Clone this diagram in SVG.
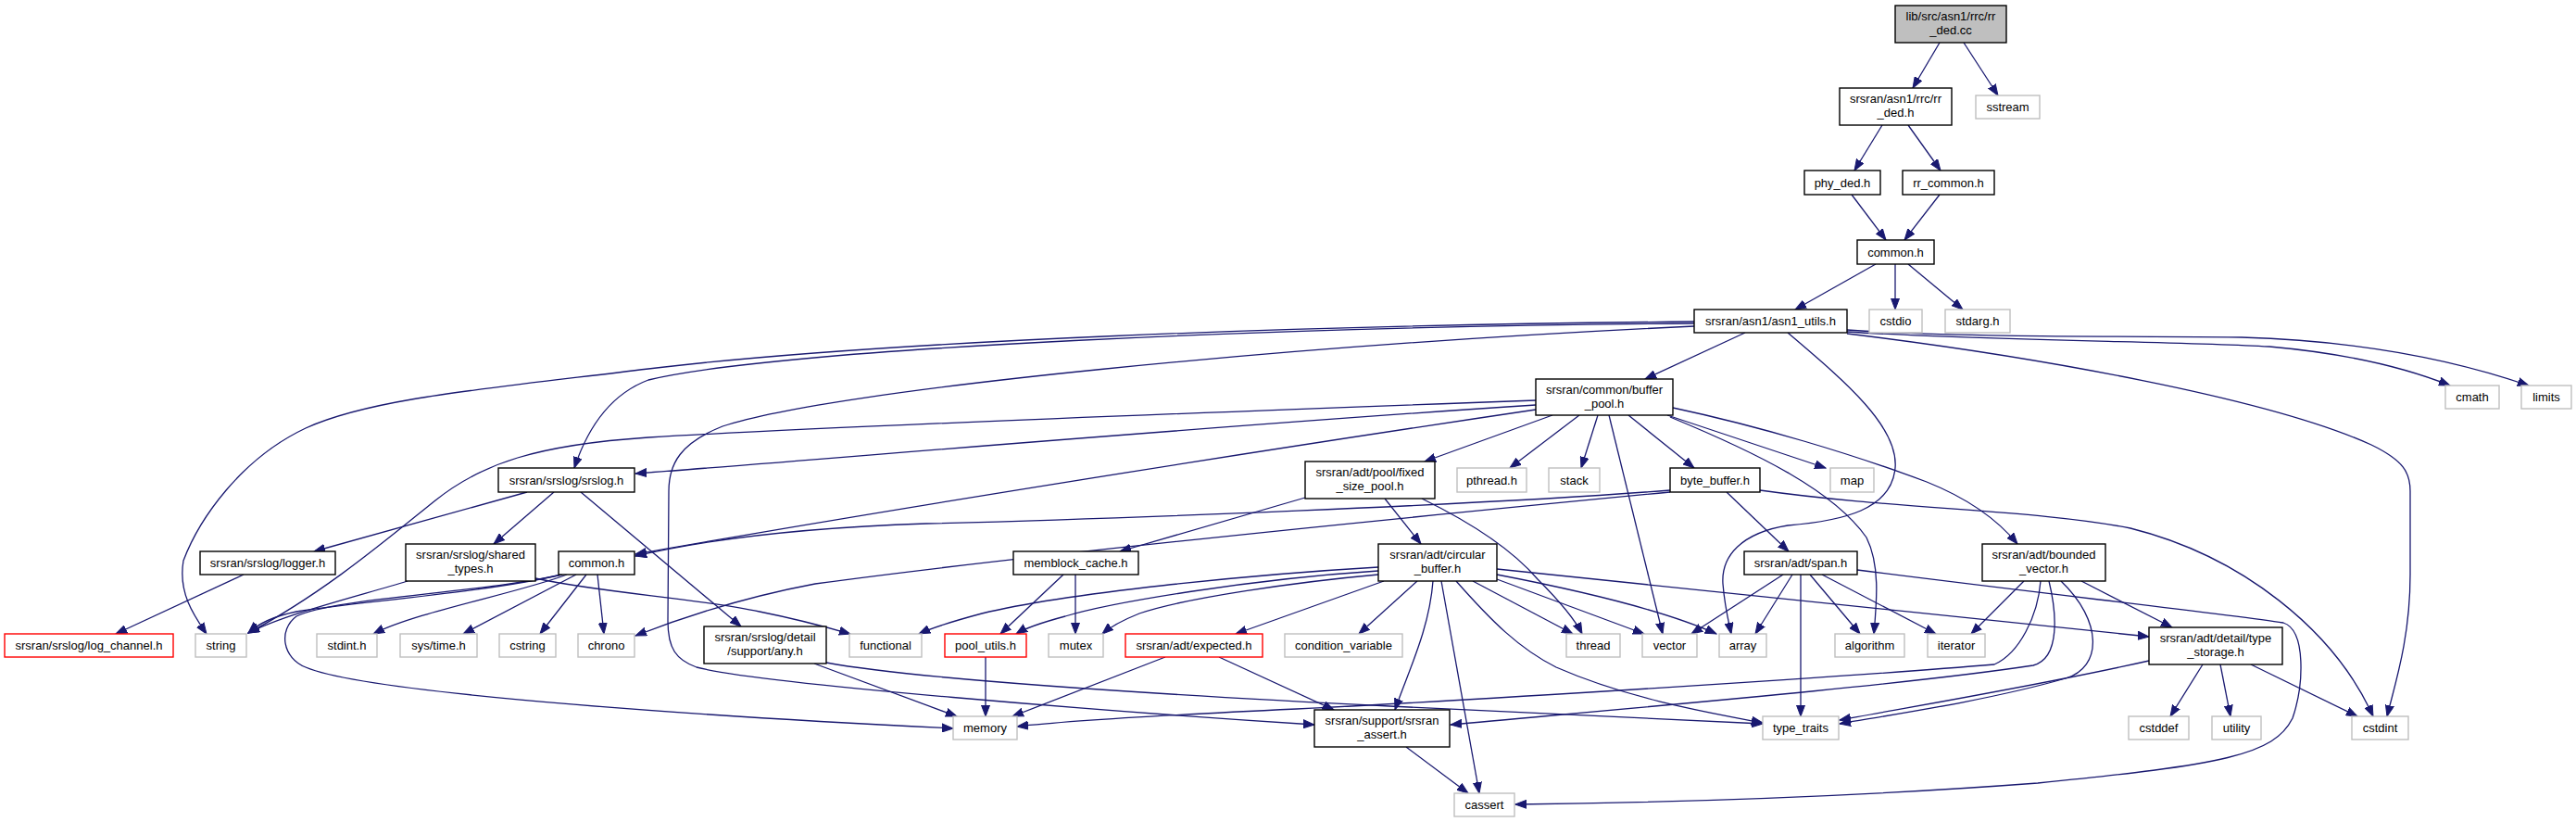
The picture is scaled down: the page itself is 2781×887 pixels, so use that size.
<svg xmlns="http://www.w3.org/2000/svg" width="2781" height="887" viewBox="0 0 2781 887">
<defs>
<marker id="ah" markerUnits="userSpaceOnUse" markerWidth="13" markerHeight="10" refX="12" refY="5" orient="auto">
<path d="M0,0.5 L12,5 L0,9.5 Z" fill="#191970" stroke="#191970" stroke-width="1"/>
</marker>
<style>
.n rect{fill:#ffffff;stroke:#000000;stroke-width:1.4}
.x rect{stroke:#bfbfbf}
.r rect{stroke:#ff0000}
.root rect{fill:#bfbfbf}
text{font-family:"Liberation Sans",Arial,Helvetica,sans-serif;font-size:13px;fill:#000000;text-anchor:middle}
#edges path{fill:none;stroke:#191970;stroke-width:1.3;marker-end:url(#ah)}
</style>
</defs>
<rect x="0" y="0" width="2781" height="887" fill="#ffffff"/>
<g id="edges">
<path d="M2094,46 L2065,95"/>
<path d="M2120,46 L2157,103"/>
<path d="M2032,135 L2002,184"/>
<path d="M2060,135 L2095,184"/>
<path d="M1999,210 L2036,259"/>
<path d="M2094,210 L2056,259"/>
<path d="M2025,285 L1938,334"/>
<path d="M2046,285 L2046,334"/>
<path d="M2060,285 L2119,334"/>
<path d="M1884,359 L1776,409"/>
<path d="M1829,349 C1400,352 850,375 700,410 C660,425 635,460 620,505"/>
<path d="M1829,347 C1400,351 950,368 700,398 C520,420 400,430 330,462 C260,495 215,560 198,605 C192,640 210,665 223,684"/>
<path d="M1829,352 C1400,372 900,420 780,460 C735,478 722,500 722,530 L721,670 C721,700 730,712 752,720 C820,738 1200,768 1419,782"/>
<path d="M1930,359 C1990,410 2050,460 2046,505 C2042,550 1990,562 1930,567 C1880,575 1858,600 1860,630 C1862,655 1866,670 1869,684"/>
<path d="M1994,358 C2150,368 2350,368 2450,374 C2540,382 2600,398 2645,416"/>
<path d="M1994,356 C2150,366 2350,362 2420,364 C2560,368 2660,392 2730,416"/>
<path d="M1994,360 C2200,385 2450,430 2560,480 C2595,497 2602,510 2602,530 L2602,620 C2602,690 2585,740 2577,773"/>
<path d="M1676,448 L1538,498"/>
<path d="M1705,448 L1630,505"/>
<path d="M1725,448 L1707,505"/>
<path d="M1737,448 L1795,684"/>
<path d="M1758,448 L1829,505"/>
<path d="M1800,448 L1971,505"/>
<path d="M1803,450 C1900,490 1980,530 2015,580 C2030,610 2026,650 2023,684"/>
<path d="M1806,440 C1900,460 2000,490 2080,520 C2130,540 2160,565 2178,587"/>
<path d="M1658,432 C1300,445 900,460 700,472 C580,480 520,500 470,540 C420,580 350,640 268,683"/>
<path d="M1658,437 C1300,460 900,495 686,511"/>
<path d="M1658,442 C1300,495 900,560 686,598"/>
<path d="M1803,529 C1600,545 1200,560 1000,565 C850,570 750,585 686,600"/>
<path d="M1803,531 C1500,560 1100,600 880,630 C800,645 740,665 686,686"/>
<path d="M1864,531 L1931,595"/>
<path d="M1900,529 C2050,550 2200,550 2300,570 C2420,600 2520,680 2562,773"/>
<path d="M1495,538 L1534,587"/>
<path d="M1409,537 L1209,595"/>
<path d="M1535,538 C1580,560 1630,590 1660,625 C1685,650 1700,668 1708,684"/>
<path d="M612,620 C560,640 450,660 403,684"/>
<path d="M622,620 L500,684"/>
<path d="M633,620 L583,684"/>
<path d="M645,620 L652,684"/>
<path d="M607,620 C520,640 380,650 320,660 C295,665 280,672 268,683"/>
<path d="M606,620 C520,640 360,645 320,665 C300,680 305,710 330,720 C400,750 800,775 1029,786"/>
<path d="M440,627 C380,645 310,662 268,683"/>
<path d="M578,624 C650,640 750,645 820,660 C860,668 890,676 918,684"/>
<path d="M569,531 L339,595"/>
<path d="M598,531 L533,587"/>
<path d="M627,531 L800,676"/>
<path d="M263,620 L125,684"/>
<path d="M879,716 L1033,773"/>
<path d="M892,715 C1000,735 1300,752 1500,762 C1700,772 1850,778 1903,781"/>
<path d="M1148,620 L1080,684"/>
<path d="M1161,620 L1161,684"/>
<path d="M1488,612 C1350,620 1150,640 1060,662 C1030,670 1005,678 992,684"/>
<path d="M1488,616 C1350,625 1200,650 1150,665 C1120,673 1105,679 1097,684"/>
<path d="M1488,620 C1400,628 1280,645 1230,662 C1210,670 1198,677 1190,684"/>
<path d="M1494,627 L1334,684"/>
<path d="M1530,627 L1467,684"/>
<path d="M1547,627 C1543,680 1520,725 1506,766"/>
<path d="M1556,627 L1597,856"/>
<path d="M1572,627 C1610,670 1640,700 1680,720 C1760,755 1850,770 1903,780"/>
<path d="M1590,627 L1698,684"/>
<path d="M1616,625 L1775,684"/>
<path d="M1616,620 C1720,640 1800,660 1853,684"/>
<path d="M1616,614 C1900,645 2150,670 2320,687"/>
<path d="M1925,620 L1826,684"/>
<path d="M1935,620 L1895,684"/>
<path d="M1944,620 L1944,773"/>
<path d="M1954,620 L2008,684"/>
<path d="M1967,620 L2090,684"/>
<path d="M2005,615 C2200,640 2400,662 2465,672 C2490,680 2487,740 2475,775 C2455,815 2400,825 2200,845 C2000,860 1800,866 1636,868"/>
<path d="M2185,627 L2128,684"/>
<path d="M2203,627 C2200,665 2180,705 2153,717 C2000,730 1600,755 1400,765 C1250,772 1150,778 1098,784"/>
<path d="M2212,627 C2220,660 2225,710 2195,718 C2050,740 1750,765 1566,782"/>
<path d="M2225,627 C2270,670 2270,720 2230,732 C2150,755 2050,770 1986,781"/>
<path d="M2247,627 L2345,677"/>
<path d="M2320,713 C2200,740 2050,765 1986,777"/>
<path d="M2378,717 L2343,773"/>
<path d="M2397,717 L2408,773"/>
<path d="M2430,717 L2545,773"/>
<path d="M1258,709 L1093,773"/>
<path d="M1316,709 L1440,766"/>
<path d="M1064,709 L1064,773"/>
<path d="M1518,806 L1585,856"/>
</g>
<g id="n_cc" class="n root"><rect x="2046" y="6" width="120" height="40"/><text x="2106" y="22">lib/src/asn1/rrc/rr</text><text x="2106" y="37">_ded.cc</text></g>
<g id="n_rrdedh" class="n"><rect x="1986" y="95" width="121" height="40"/><text x="2046.5" y="111">srsran/asn1/rrc/rr</text><text x="2046.5" y="126">_ded.h</text></g>
<g id="n_sstream" class="n x"><rect x="2133" y="103" width="69" height="25"/><text x="2167.5" y="120">sstream</text></g>
<g id="n_phy" class="n"><rect x="1948" y="184" width="82" height="26"/><text x="1989" y="201.5">phy_ded.h</text></g>
<g id="n_rrcommon" class="n"><rect x="2054" y="184" width="99" height="26"/><text x="2103.5" y="201.5">rr_common.h</text></g>
<g id="n_common1" class="n"><rect x="2005" y="259" width="83" height="26"/><text x="2046.5" y="276.5">common.h</text></g>
<g id="n_asn1utils" class="n"><rect x="1829" y="334" width="165" height="25"/><text x="1911.5" y="351">srsran/asn1/asn1_utils.h</text></g>
<g id="n_cstdio" class="n x"><rect x="2018" y="334" width="57" height="25"/><text x="2046.5" y="351">cstdio</text></g>
<g id="n_stdarg" class="n x"><rect x="2100" y="334" width="70" height="25"/><text x="2135" y="351">stdarg.h</text></g>
<g id="n_cmath" class="n x"><rect x="2640" y="416" width="58" height="25"/><text x="2669" y="433">cmath</text></g>
<g id="n_limits" class="n x"><rect x="2722" y="416" width="54" height="25"/><text x="2749" y="433">limits</text></g>
<g id="n_bufpool" class="n"><rect x="1658" y="409" width="148" height="39"/><text x="1732" y="425">srsran/common/buffer</text><text x="1732" y="440">_pool.h</text></g>
<g id="n_srslog" class="n"><rect x="538" y="505" width="147" height="26"/><text x="611.5" y="522.5">srsran/srslog/srslog.h</text></g>
<g id="n_fsp" class="n"><rect x="1409" y="498" width="140" height="40"/><text x="1479" y="514">srsran/adt/pool/fixed</text><text x="1479" y="529">_size_pool.h</text></g>
<g id="n_pthread" class="n x"><rect x="1573" y="505" width="75" height="26"/><text x="1610.5" y="522.5">pthread.h</text></g>
<g id="n_stack" class="n x"><rect x="1672" y="505" width="55" height="26"/><text x="1699.5" y="522.5">stack</text></g>
<g id="n_bytebuf" class="n"><rect x="1803" y="505" width="97" height="26"/><text x="1851.5" y="522.5">byte_buffer.h</text></g>
<g id="n_map" class="n x"><rect x="1976" y="505" width="47" height="26"/><text x="1999.5" y="522.5">map</text></g>
<g id="n_circ" class="n"><rect x="1488" y="587" width="128" height="40"/><text x="1552" y="603">srsran/adt/circular</text><text x="1552" y="618">_buffer.h</text></g>
<g id="n_span" class="n"><rect x="1883" y="595" width="122" height="25"/><text x="1944" y="612">srsran/adt/span.h</text></g>
<g id="n_bvec" class="n"><rect x="2140" y="587" width="133" height="40"/><text x="2206.5" y="603">srsran/adt/bounded</text><text x="2206.5" y="618">_vector.h</text></g>
<g id="n_logger" class="n"><rect x="216" y="595" width="146" height="25"/><text x="289" y="612">srsran/srslog/logger.h</text></g>
<g id="n_shtypes" class="n"><rect x="438" y="587" width="140" height="40"/><text x="508" y="603">srsran/srslog/shared</text><text x="508" y="618">_types.h</text></g>
<g id="n_common2" class="n"><rect x="603" y="595" width="82" height="25"/><text x="644" y="612">common.h</text></g>
<g id="n_memblock" class="n"><rect x="1094" y="595" width="135" height="25"/><text x="1161.5" y="612">memblock_cache.h</text></g>
<g id="n_logch" class="n r"><rect x="5" y="684" width="182" height="25"/><text x="96" y="701">srsran/srslog/log_channel.h</text></g>
<g id="n_string" class="n x"><rect x="211" y="684" width="55" height="25"/><text x="238.5" y="701">string</text></g>
<g id="n_stdint" class="n x"><rect x="342" y="684" width="65" height="25"/><text x="374.5" y="701">stdint.h</text></g>
<g id="n_systime" class="n x"><rect x="432" y="684" width="83" height="25"/><text x="473.5" y="701">sys/time.h</text></g>
<g id="n_cstring" class="n x"><rect x="539" y="684" width="61" height="25"/><text x="569.5" y="701">cstring</text></g>
<g id="n_chrono" class="n x"><rect x="624" y="684" width="61" height="25"/><text x="654.5" y="701">chrono</text></g>
<g id="n_any" class="n"><rect x="760" y="676" width="132" height="40"/><text x="826" y="692">srsran/srslog/detail</text><text x="826" y="707">/support/any.h</text></g>
<g id="n_functional" class="n x"><rect x="917" y="684" width="78" height="25"/><text x="956" y="701">functional</text></g>
<g id="n_poolutils" class="n r"><rect x="1020" y="684" width="88" height="25"/><text x="1064" y="701">pool_utils.h</text></g>
<g id="n_mutex" class="n x"><rect x="1132" y="684" width="59" height="25"/><text x="1161.5" y="701">mutex</text></g>
<g id="n_expected" class="n r"><rect x="1215" y="684" width="148" height="25"/><text x="1289" y="701">srsran/adt/expected.h</text></g>
<g id="n_condvar" class="n x"><rect x="1387" y="684" width="127" height="25"/><text x="1450.5" y="701">condition_variable</text></g>
<g id="n_thread" class="n x"><rect x="1691" y="684" width="58" height="25"/><text x="1720" y="701">thread</text></g>
<g id="n_vector" class="n x"><rect x="1773" y="684" width="59" height="25"/><text x="1802.5" y="701">vector</text></g>
<g id="n_array" class="n x"><rect x="1856" y="684" width="51" height="25"/><text x="1881.5" y="701">array</text></g>
<g id="n_algorithm" class="n x"><rect x="1981" y="684" width="75" height="25"/><text x="2018.5" y="701">algorithm</text></g>
<g id="n_iterator" class="n x"><rect x="2081" y="684" width="62" height="25"/><text x="2112" y="701">iterator</text></g>
<g id="n_tstorage" class="n"><rect x="2320" y="677" width="144" height="40"/><text x="2392" y="693">srsran/adt/detail/type</text><text x="2392" y="708">_storage.h</text></g>
<g id="n_memory" class="n x"><rect x="1029" y="773" width="69" height="25"/><text x="1063.5" y="790">memory</text></g>
<g id="n_assert" class="n"><rect x="1419" y="766" width="146" height="40"/><text x="1492" y="782">srsran/support/srsran</text><text x="1492" y="797">_assert.h</text></g>
<g id="n_typetraits" class="n x"><rect x="1903" y="773" width="82" height="25"/><text x="1944" y="790">type_traits</text></g>
<g id="n_cstddef" class="n x"><rect x="2298" y="773" width="65" height="25"/><text x="2330.5" y="790">cstddef</text></g>
<g id="n_utility" class="n x"><rect x="2388" y="773" width="53" height="25"/><text x="2414.5" y="790">utility</text></g>
<g id="n_cstdint" class="n x"><rect x="2539" y="773" width="61" height="25"/><text x="2569.5" y="790">cstdint</text></g>
<g id="n_cassert" class="n x"><rect x="1570" y="856" width="65" height="25"/><text x="1602.5" y="873">cassert</text></g>
</svg>
